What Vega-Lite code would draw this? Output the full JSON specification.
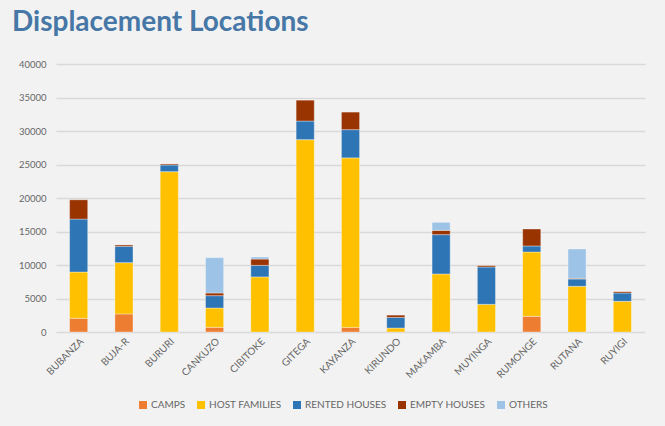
{
  "$schema": "https://vega.github.io/schema/vega-lite/v6.json",
  "width": 589,
  "height": 268,
  "autosize": {"type": "none"},
  "padding": {"left": 56, "top": 64, "right": 20, "bottom": 94},
  "background": "#f2f2f2",
  "title": {
    "text": "Displacement Locations",
    "anchor": "start",
    "frame": "group",
    "dx": -44,
    "offset": 0,
    "baseline": "alphabetic",
    "font": "Lato",
    "fontSize": 28,
    "fontWeight": "bold",
    "color": "#4677a6"
  },
  "config": {
    "view": {"stroke": null},
    "axis": {"labelFont": "Lato", "labelColor": "#666666", "labelFontSize": 9.5, "ticks": false, "domain": false, "title": null},
    "legend": {"labelFont": "Lato", "labelColor": "#666666", "labelFontSize": 10}
  },
  "data": {
    "values": [
      {"location": "BUBANZA", "type": "CAMPS", "value": 2050},
      {"location": "BUBANZA", "type": "HOST FAMILIES", "value": 6900},
      {"location": "BUBANZA", "type": "RENTED HOUSES", "value": 7900},
      {"location": "BUBANZA", "type": "EMPTY HOUSES", "value": 2880},
      {"location": "BUJA-R", "type": "CAMPS", "value": 2700},
      {"location": "BUJA-R", "type": "HOST FAMILIES", "value": 7650},
      {"location": "BUJA-R", "type": "RENTED HOUSES", "value": 2440},
      {"location": "BUJA-R", "type": "EMPTY HOUSES", "value": 200},
      {"location": "BURURI", "type": "HOST FAMILIES", "value": 23930},
      {"location": "BURURI", "type": "RENTED HOUSES", "value": 1000},
      {"location": "BURURI", "type": "EMPTY HOUSES", "value": 150},
      {"location": "CANKUZO", "type": "CAMPS", "value": 700},
      {"location": "CANKUZO", "type": "HOST FAMILIES", "value": 2880},
      {"location": "CANKUZO", "type": "RENTED HOUSES", "value": 1840},
      {"location": "CANKUZO", "type": "EMPTY HOUSES", "value": 400},
      {"location": "CANKUZO", "type": "OTHERS", "value": 5280},
      {"location": "CIBITOKE", "type": "HOST FAMILIES", "value": 8220},
      {"location": "CIBITOKE", "type": "RENTED HOUSES", "value": 1730},
      {"location": "CIBITOKE", "type": "EMPTY HOUSES", "value": 940},
      {"location": "CIBITOKE", "type": "OTHERS", "value": 300},
      {"location": "GITEGA", "type": "HOST FAMILIES", "value": 28710},
      {"location": "GITEGA", "type": "RENTED HOUSES", "value": 2780},
      {"location": "GITEGA", "type": "EMPTY HOUSES", "value": 3110},
      {"location": "KAYANZA", "type": "CAMPS", "value": 690},
      {"location": "KAYANZA", "type": "HOST FAMILIES", "value": 25300},
      {"location": "KAYANZA", "type": "RENTED HOUSES", "value": 4210},
      {"location": "KAYANZA", "type": "EMPTY HOUSES", "value": 2620},
      {"location": "KIRUNDO", "type": "HOST FAMILIES", "value": 590},
      {"location": "KIRUNDO", "type": "RENTED HOUSES", "value": 1590},
      {"location": "KIRUNDO", "type": "EMPTY HOUSES", "value": 340},
      {"location": "MAKAMBA", "type": "HOST FAMILIES", "value": 8660},
      {"location": "MAKAMBA", "type": "RENTED HOUSES", "value": 5870},
      {"location": "MAKAMBA", "type": "EMPTY HOUSES", "value": 640},
      {"location": "MAKAMBA", "type": "OTHERS", "value": 1200},
      {"location": "MUYINGA", "type": "HOST FAMILIES", "value": 4130},
      {"location": "MUYINGA", "type": "RENTED HOUSES", "value": 5570},
      {"location": "MUYINGA", "type": "EMPTY HOUSES", "value": 200},
      {"location": "RUMONGE", "type": "CAMPS", "value": 2340},
      {"location": "RUMONGE", "type": "HOST FAMILIES", "value": 9600},
      {"location": "RUMONGE", "type": "RENTED HOUSES", "value": 900},
      {"location": "RUMONGE", "type": "EMPTY HOUSES", "value": 2530},
      {"location": "RUTANA", "type": "HOST FAMILIES", "value": 6820},
      {"location": "RUTANA", "type": "RENTED HOUSES", "value": 1090},
      {"location": "RUTANA", "type": "EMPTY HOUSES", "value": 100},
      {"location": "RUTANA", "type": "OTHERS", "value": 4380},
      {"location": "RUYIGI", "type": "HOST FAMILIES", "value": 4580},
      {"location": "RUYIGI", "type": "RENTED HOUSES", "value": 1240},
      {"location": "RUYIGI", "type": "EMPTY HOUSES", "value": 200}
    ]
  },
  "transform": [
    {"calculate": "indexof(['CAMPS', 'HOST FAMILIES', 'RENTED HOUSES', 'EMPTY HOUSES', 'OTHERS'], datum.type)", "as": "stackRank"}
  ],
  "mark": {"type": "bar", "stroke": "#ffffff", "strokeOpacity": 0.35, "strokeWidth": 1},
  "encoding": {
    "x": {
      "field": "location",
      "type": "nominal",
      "sort": null,
      "scale": {"paddingInner": 0.6, "paddingOuter": 0.3},
      "axis": {"labelAngle": -45, "labelPadding": 4, "labelFontSize": 10, "grid": false}
    },
    "y": {
      "field": "value",
      "type": "quantitative",
      "stack": "zero",
      "scale": {"domain": [0, 40000], "nice": false},
      "axis": {"values": [0, 5000, 10000, 15000, 20000, 25000, 30000, 35000, 40000], "format": "d", "labelPadding": 10, "gridColor": "#d9d9d9", "gridWidth": 1.5}
    },
    "order": {"field": "stackRank", "type": "quantitative", "sort": "ascending"},
    "color": {
      "field": "type",
      "type": "nominal",
      "sort": ["CAMPS", "HOST FAMILIES", "RENTED HOUSES", "EMPTY HOUSES", "OTHERS"],
      "scale": {
        "domain": ["CAMPS", "HOST FAMILIES", "RENTED HOUSES", "EMPTY HOUSES", "OTHERS"],
        "range": ["#ed7d31", "#ffc000", "#2e75b6", "#993300", "#9dc3e6"]
      },
      "legend": {
        "title": null,
        "orient": "none",
        "direction": "horizontal",
        "legendX": 82,
        "legendY": 336,
        "symbolType": "square",
        "symbolSize": 64,
        "symbolStrokeWidth": 0,
        "labelOffset": 3,
        "columnPadding": 10,
        "padding": 0
      }
    }
  }
}
